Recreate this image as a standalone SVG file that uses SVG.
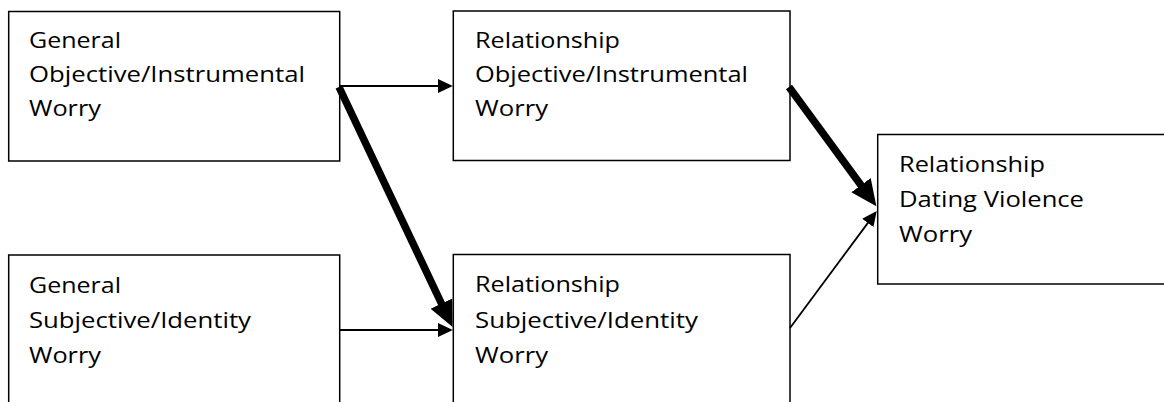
<svg xmlns="http://www.w3.org/2000/svg" width="1164" height="402" viewBox="0 0 1164 402">
  <style>
    .box { fill: #ffffff; stroke: #000000; stroke-width: 1.5; }
    .lbl { font-family: "Open Sans", "Liberation Sans", sans-serif; font-size: 22px; fill: #000000; }
    .thin { stroke: #000000; stroke-width: 1.8; fill: none; marker-end: url(#arrowThin); }
    .thick { stroke: #000000; stroke-width: 7.5; fill: none; marker-end: url(#arrowThick); }
  </style>
  <defs>
    <marker id="arrowThin" markerUnits="userSpaceOnUse" markerWidth="16" markerHeight="15" refX="0.5" refY="7" orient="auto">
      <path d="M0,0 L15,7 L0,14 Z" fill="#000000"/>
    </marker>
    <marker id="arrowThick" markerUnits="userSpaceOnUse" markerWidth="27" markerHeight="25" refX="1" refY="12" orient="auto">
      <path d="M0,0 L26,12 L0,24 Z" fill="#000000"/>
    </marker>
  </defs>
  <rect width="1164" height="402" fill="#ffffff"/>

  <g id="node-general-objective">
    <rect class="box" x="8.7" y="11.5" width="331" height="149.5"/>
    <text class="lbl" x="29" y="48" textLength="92" lengthAdjust="spacingAndGlyphs">General</text>
    <text class="lbl" x="29" y="82" textLength="276" lengthAdjust="spacingAndGlyphs">Objective/Instrumental</text>
    <text class="lbl" x="29" y="116" textLength="72" lengthAdjust="spacingAndGlyphs">Worry</text>
  </g>

  <g id="node-relationship-objective">
    <rect class="box" x="453.3" y="11" width="336.7" height="149.5"/>
    <text class="lbl" x="475" y="48" textLength="145" lengthAdjust="spacingAndGlyphs">Relationship</text>
    <text class="lbl" x="475" y="82" textLength="273" lengthAdjust="spacingAndGlyphs">Objective/Instrumental</text>
    <text class="lbl" x="475" y="116" textLength="73" lengthAdjust="spacingAndGlyphs">Worry</text>
  </g>

  <g id="node-dating-violence">
    <rect class="box" x="877.7" y="134.5" width="300" height="149.5"/>
    <text class="lbl" x="899" y="172" textLength="146" lengthAdjust="spacingAndGlyphs">Relationship</text>
    <text class="lbl" x="899" y="207" textLength="185" lengthAdjust="spacingAndGlyphs">Dating Violence</text>
    <text class="lbl" x="899" y="242" textLength="73" lengthAdjust="spacingAndGlyphs">Worry</text>
  </g>

  <g id="node-general-subjective">
    <rect class="box" x="8.7" y="255" width="331" height="170"/>
    <text class="lbl" x="29" y="293" textLength="92" lengthAdjust="spacingAndGlyphs">General</text>
    <text class="lbl" x="29" y="328" textLength="222" lengthAdjust="spacingAndGlyphs">Subjective/Identity</text>
    <text class="lbl" x="29" y="363" textLength="72" lengthAdjust="spacingAndGlyphs">Worry</text>
  </g>

  <g id="node-relationship-subjective">
    <rect class="box" x="453.3" y="254.5" width="336.7" height="170"/>
    <text class="lbl" x="475" y="292" textLength="145" lengthAdjust="spacingAndGlyphs">Relationship</text>
    <text class="lbl" x="475" y="328" textLength="223" lengthAdjust="spacingAndGlyphs">Subjective/Identity</text>
    <text class="lbl" x="475" y="363" textLength="73" lengthAdjust="spacingAndGlyphs">Worry</text>
  </g>

  <g id="connectors">
    <path class="thin" d="M340,86 L438.3,86"/>
    <path class="thick" d="M339,87 L441.9,304.5"/>
    <path class="thin" d="M340,330 L438.3,330"/>
    <path class="thick" d="M789,87 L861.6,186"/>
    <path class="thin" d="M790,328 L868.1,222.6"/>
  </g>
</svg>
